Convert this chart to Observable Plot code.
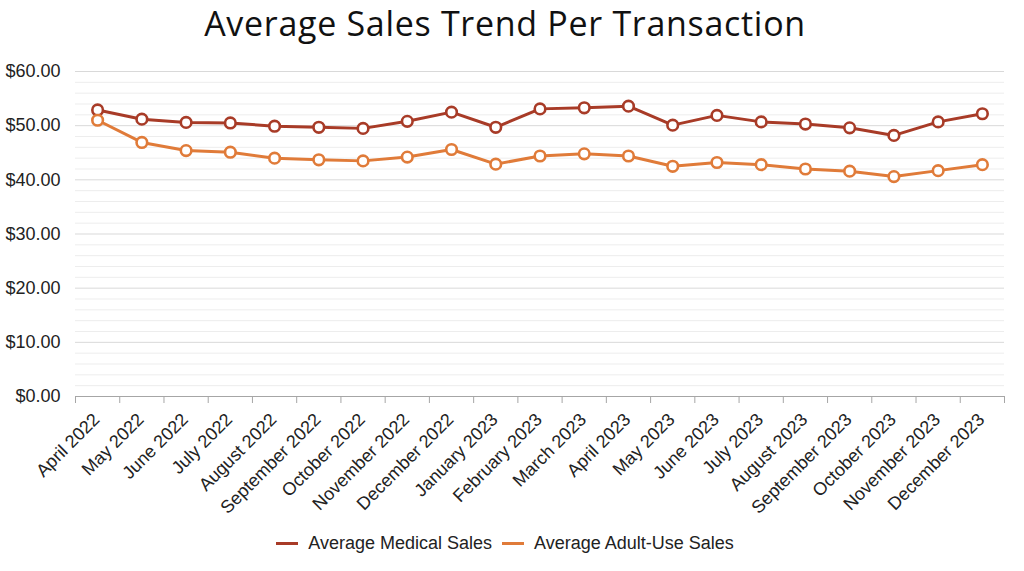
<!DOCTYPE html>
<html><head><meta charset="utf-8">
<script src="https://cdn.jsdelivr.net/npm/d3@7"></script>
<script src="https://cdn.jsdelivr.net/npm/@observablehq/plot@0.6"></script>
<style>
body{margin:0;background:#fff;width:1024px;height:571px;overflow:hidden;font-family:"Liberation Sans",Arial,sans-serif;}
#title{width:1010px;text-align:center;font-family:"Open Sans",sans-serif;font-size:34px;height:50px;line-height:46px;color:#111;letter-spacing:0.7px;}
#chart{height:470px;}
#legend{width:1010px;display:flex;justify-content:center;align-items:center;font-size:18px;color:#222;height:46px;}
.item{display:flex;align-items:center;margin:0 5px;}
.sw{width:22px;height:3px;margin-right:10px;}
</style></head>
<body>
<div id="title">Average Sales Trend Per Transaction</div>
<div id="chart"></div>
<div id="legend"></div>
<script>
const months = ["April 2022","May 2022","June 2022","July 2022","August 2022","September 2022","October 2022","November 2022","December 2022","January 2023","February 2023","March 2023","April 2023","May 2023","June 2023","July 2023","August 2023","September 2023","October 2023","November 2023","December 2023"];
const medical = [52.9,51.2,50.6,50.5,49.9,49.7,49.5,50.8,52.5,49.7,53.1,53.3,53.6,50.1,51.9,50.7,50.3,49.6,48.2,50.7,52.2];
const adultUse = [51.0,46.9,45.4,45.1,44.0,43.7,43.5,44.2,45.6,42.9,44.4,44.8,44.4,42.5,43.2,42.8,42.0,41.6,40.6,41.7,42.8];
const seriesNames = ["Average Medical Sales","Average Adult-Use Sales"];
const seriesColors = ["#a83b27","#e07b39"];
const yTicks = [0,10,20,30,40,50,60];
const yMinor = [2,4,6,8,12,14,16,18,22,24,26,28,32,34,36,38,42,44,46,48,52,54,56,58];

const rows = [];
[medical, adultUse].forEach((vals, s) => vals.forEach((v, i) => rows.push({i, month: months[i], value: v, series: seriesNames[s]})));
const idx = months.map((m, i) => i);
const bounds = months.map((m, i) => i - 0.5).concat([months.length - 0.5]);

const chart = Plot.plot({
  width: 1024, height: 470,
  marginTop: 21, marginBottom: 124, marginLeft: 75, marginRight: 20,
  style: {fontFamily: '"Liberation Sans", Arial, sans-serif', color: "#222", background: "#fff"},
  x: {type: "linear", domain: [-0.5, months.length - 0.5]},
  y: {domain: [0, 60]},
  color: {domain: seriesNames, range: seriesColors},
  marks: [
    Plot.ruleY(yMinor, {stroke: "#ededed", strokeWidth: 1}),
    Plot.ruleY(yTicks.filter(d => d > 0), {stroke: "#d9d9d9", strokeWidth: 1}),
    Plot.ruleY([0], {stroke: "#a6a6a6", strokeWidth: 1.2}),
    Plot.axisX(bounds, {tickSize: 7, tickFormat: () => "", stroke: "#a6a6a6", label: null}),
    Plot.axisX(idx, {tickSize: 0, tickRotate: -45, tickPadding: 20, dx: -1, tickFormat: i => months[i], fontSize: 18, label: null}),
    Plot.axisY(yTicks, {tickSize: 0, tickPadding: 15, tickFormat: d => "$" + d.toFixed(2), fontSize: 18, label: null}),
    Plot.line(rows, {x: "i", y: "value", z: "series", stroke: "series", strokeWidth: 3}),
    Plot.dot(rows, {x: "i", y: "value", stroke: "series", fill: "white", r: 5.3, strokeWidth: 2.6})
  ]
});
document.getElementById("chart").appendChild(chart);

const legend = document.getElementById("legend");
seriesNames.forEach((n, k) => {
  const it = document.createElement("div"); it.className = "item";
  const sw = document.createElement("div"); sw.className = "sw"; sw.style.background = seriesColors[k];
  const t = document.createElement("span"); t.textContent = n;
  it.appendChild(sw); it.appendChild(t); legend.appendChild(it);
});
</script>
</body></html>
